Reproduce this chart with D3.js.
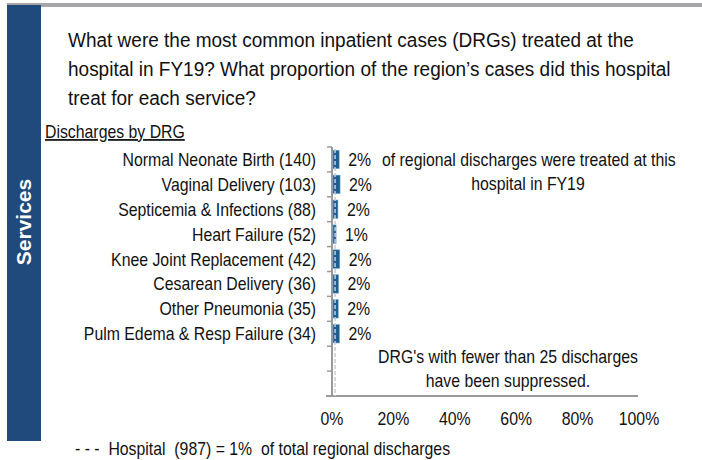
<!DOCTYPE html>
<html>
<head>
<meta charset="utf-8">
<script src="https://cdn.jsdelivr.net/npm/d3@7"></script>
<style>
  body { margin: 0; background: #fff; }
  text { font-family: "Liberation Sans", Arial, sans-serif; fill: #111; }
</style>
</head>
<body>
<svg id="chart" width="702" height="460"></svg>
<script>
// data
var categories = ["Normal Neonate Birth (140)", "Vaginal Delivery (103)", "Septicemia & Infections (88)",
  "Heart Failure (52)", "Knee Joint Replacement (42)", "Cesarean Delivery (36)",
  "Other Pneumonia (35)", "Pulm Edema & Resp Failure (34)"];
var shares = [2.0, 2.3, 1.6, 1.0, 2.2, 1.8, 1.7, 2.1];
var blankSlots = ["_a", "_b"];
var xTicks = [0, 20, 40, 60, 80, 100];
var hospitalShare = 1;
var titleLines = ["What were the most common inpatient cases (DRGs) treated at the",
  "hospital in FY19? What proportion of the region\u2019s cases did this hospital",
  "treat for each service?"];

var svg = d3.select("#chart");
var SX = 0.905; // the source type is a bit narrow

// text helper, squeezes glyphs horizontally around the anchor point
function addText(px, py, str, size, anchor) {
  return svg.append("text")
    .attr("transform", "translate(" + px + "," + py + ") scale(" + SX + ",1)")
    .attr("text-anchor", anchor || "start")
    .attr("xml:space", "preserve")
    .style("font-size", size + "px")
    .text(str);
}

// frame: gray top strip, blue side bar
svg.append("rect").attr("x", 7).attr("y", 3).attr("width", 695).attr("height", 4).attr("fill", "#a6a6a8");
svg.append("rect").attr("x", 7).attr("y", 5).attr("width", 34).attr("height", 436).attr("fill", "#1f4a7b");
svg.append("text")
  .attr("transform", "translate(31,222) rotate(-90)")
  .attr("text-anchor", "middle")
  .style("fill", "#fff").style("font-weight", "bold").style("font-size", "21px")
  .text("Services");

// title
titleLines.forEach(function (d, i) {
  addText(68, 47 + i * 29, d, 21);
});

addText(45, 138, "Discharges by DRG", 17.5).style("text-decoration", "underline");

var x = d3.scaleLinear().domain([0, 100]).range([332, 639]);
var y = d3.scaleBand().domain(categories.concat(blankSlots)).range([147, 396]).paddingInner(0.26).paddingOuter(0.13);
var step = y.step();

// category labels
categories.forEach(function (d) {
  addText(316, y(d) + y.bandwidth() / 2 + 6.5, d, 17.5, "end");
});

// y axis with ticks between bands
var yTop = y.range()[0], yBot = y.range()[1];
svg.append("line").attr("x1", x(0)).attr("x2", x(0)).attr("y1", yTop).attr("y2", yBot)
  .attr("stroke", "#9a9a9a").attr("stroke-width", 2);
svg.selectAll(".ytick").data(d3.range(categories.length + blankSlots.length)).enter().append("line")
  .attr("x1", x(0) - 5).attr("x2", x(0))
  .attr("y1", function (i) { return yTop + i * step; })
  .attr("y2", function (i) { return yTop + i * step; })
  .attr("stroke", "#9a9a9a").attr("stroke-width", 1.5);

// x axis line + labels
svg.append("line").attr("x1", 326).attr("x2", 638).attr("y1", yBot).attr("y2", yBot)
  .attr("stroke", "#9a9a9a").attr("stroke-width", 2);
xTicks.forEach(function (d) {
  addText(x(d), 425, d + "%", 17.5, "middle");
});

// bars
svg.selectAll(".bar").data(shares).enter().append("rect")
  .attr("class", "bar")
  .attr("x", x(0) + 1)
  .attr("y", function (d, i) { return y(categories[i]); })
  .attr("width", function (d) { return x(d) - x(0); })
  .attr("height", y.bandwidth())
  .attr("fill", "#1d5e8e").attr("stroke", "#6fa3c8").attr("stroke-width", 0.6);

// hospital overall share line
svg.append("line").attr("x1", x(hospitalShare)).attr("x2", x(hospitalShare))
  .attr("y1", yTop + 2).attr("y2", yBot)
  .attr("stroke", "#c9ccd0").attr("stroke-width", 1.5).attr("stroke-dasharray", "4,2");

// value labels
shares.forEach(function (d, i) {
  addText(x(d) + 10, y(categories[i]) + y.bandwidth() / 2 + 6.5, Math.round(d) + "%", 17.5);
});

// notes
addText(382, 166, "of regional discharges were treated at this", 17.5);
addText(528, 190, "hospital in FY19", 17.5, "middle");
addText(508, 363, "DRG's with fewer than 25 discharges", 17.5, "middle");
addText(508, 387, "have been suppressed.", 17.5, "middle");

addText(75, 455, "- - -  Hospital  (987) = 1%  of total regional discharges", 17.5);
</script>
</body>
</html>
